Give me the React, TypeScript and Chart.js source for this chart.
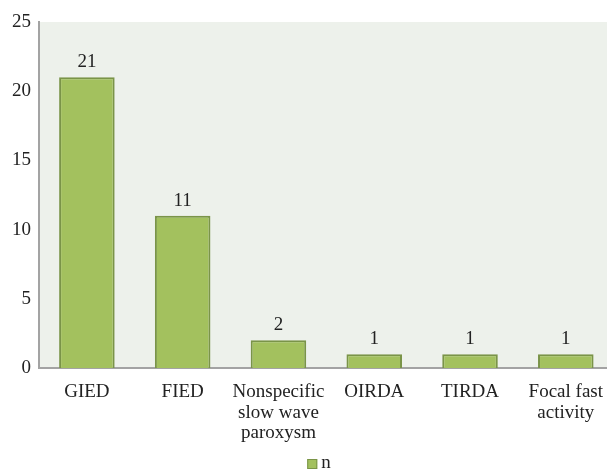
import React, { useEffect, useRef } from "react";
import { Chart, registerables } from "chart.js";

Chart.register(...registerables);

const categories: (string | string[])[] = [
  "GIED",
  "FIED",
  ["Nonspecific", "slow wave", "paroxysm"],
  "OIRDA",
  "TIRDA",
  ["Focal fast", "activity"],
];
const seriesName = "n";
const values = [21, 11, 2, 1, 1, 1];
const yTicks = [0, 5, 10, 15, 20, 25];

const FONT = "'Liberation Serif', 'DejaVu Serif', serif";
const FILL = "#A3C15E";
const EDGE = "#7A9448";
const TEXT = "#222222";

const bgPlugin = {
  id: "plotBg",
  beforeDraw(chart: any) {
    const { ctx, chartArea } = chart;
    ctx.save();
    ctx.fillStyle = "#EDF1EB";
    ctx.fillRect(chartArea.left, chartArea.top, chartArea.right - chartArea.left, chartArea.bottom - chartArea.top);
    ctx.restore();
  },
};

const labelPlugin = {
  id: "valueLabels",
  afterDatasetsDraw(chart: any) {
    const { ctx } = chart;
    ctx.save();
    ctx.font = `19px ${FONT}`;
    ctx.fillStyle = TEXT;
    ctx.textAlign = "center";
    ctx.textBaseline = "alphabetic";
    chart.data.datasets.forEach((ds: any, i: number) => {
      const meta = chart.getDatasetMeta(i);
      meta.data.forEach((el: any, j: number) => {
        ctx.fillText(String(ds.data[j]), el.x, el.y - 10);
      });
    });
    ctx.restore();
  },
};

const legendPlugin = {
  id: "customLegend",
  afterDraw(chart: any) {
    const { ctx } = chart;
    const ds = chart.data.datasets[0];
    ctx.save();
    ctx.font = `19px ${FONT}`;
    const tw = ctx.measureText(ds.label).width;
    const total = 10 + 4 + tw;
    const x0 = 319 - total / 2;
    const yTop = 459;
    ctx.fillStyle = FILL;
    ctx.strokeStyle = EDGE;
    ctx.lineWidth = 1;
    ctx.fillRect(x0, yTop, 10, 10);
    ctx.strokeRect(x0 + 0.5, yTop + 0.5, 9, 9);
    ctx.fillStyle = TEXT;
    ctx.textAlign = "left";
    ctx.textBaseline = "alphabetic";
    ctx.fillText(ds.label, x0 + 14, 468);
    ctx.restore();
  },
};

export default function App() {
  const ref = useRef<HTMLCanvasElement>(null);
  useEffect(() => {
    if (!ref.current) return;
    const chart = new Chart(ref.current, {
      type: "bar",
      data: {
        labels: categories,
        datasets: [
          {
            label: seriesName,
            data: values,
            backgroundColor: FILL,
            borderColor: EDGE,
            borderWidth: 2,
            categoryPercentage: 1,
            barPercentage: 0.58,
          },
        ],
      },
      options: {
        animation: false,
        responsive: false,
        layout: { padding: { top: 22, right: 0, left: 0, bottom: 0 } },
        plugins: {
          legend: { display: false },
          tooltip: { enabled: false },
        },
        scales: {
          x: {
            grid: { display: false, drawTicks: false },
            border: { display: true, color: "#A3A3A3", width: 2 },
            ticks: {
              font: { family: FONT, size: 19, lineHeight: 1.08 },
              color: TEXT,
              padding: 14,
              maxRotation: 0,
              autoSkip: false,
            },
            afterFit(scale: any) {
              scale.height = 101;
            },
          },
          y: {
            min: 0,
            max: 25,
            grid: { display: false, drawTicks: false },
            border: { display: true, color: "#A3A3A3", width: 2 },
            afterBuildTicks(scale: any) {
              scale.ticks = yTicks.map((v) => ({ value: v }));
            },
            ticks: {
              font: { family: FONT, size: 19 },
              color: TEXT,
              padding: 8,
            },
            afterFit(scale: any) {
              scale.width = 39;
            },
          },
        },
      },
      plugins: [bgPlugin, labelPlugin, legendPlugin],
    });
    return () => chart.destroy();
  }, []);
  return (
    <div style={{ position: "fixed", left: 0, top: 0, width: 607, height: 469, overflow: "hidden", background: "#fff" }}>
      <canvas ref={ref} width={617} height={469} style={{ display: "block" }} />
    </div>
  );
}
